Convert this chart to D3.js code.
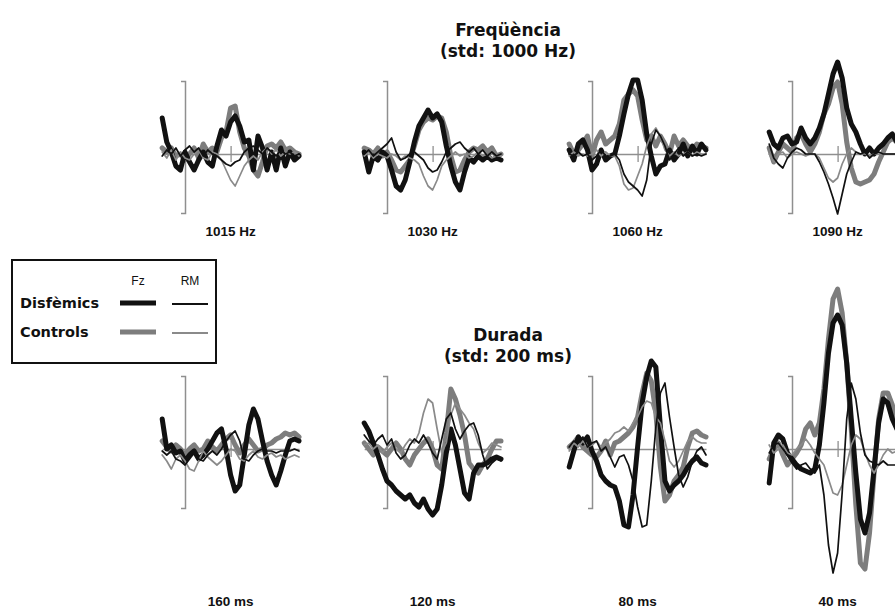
<!DOCTYPE html>
<html>
<head>
<meta charset="utf-8">
<script src="https://cdn.jsdelivr.net/npm/d3@7"></script>
<style>
  body { margin: 0; background: #fff; }
  svg { display: block; }
</style>
</head>
<body>
<svg id="chart" width="895" height="608"></svg>
<script>
// Sample times of the averaged ERP epochs (ms)
const timesMs = [-100,-80,-60,-40,-20,0,20,40,60,80,100,120,140,160,180,200,220,240,260,280,300,320,340,360,380,400,420,440,460,480,500];

const freqLabels = ["1015 Hz", "1030 Hz", "1060 Hz", "1090 Hz"];
const durLabels = ["160 ms", "120 ms", "80 ms", "40 ms"];
const groupLabels = ["Disfèmics", "Controls"];
const siteLabels = ["Fz", "RM"];

// Difference waves in µV (negative plotted upward)
// --- Frequency deviants ---
const fzDisf1015 = [-1.8,-0.6,-0.1,0.6,0.8,-0.1,0.4,0.8,0.3,-0.1,0.4,0.6,-0.4,-1.2,-0.9,-1.6,-1.9,-1.4,-0.6,-0.7,0.8,-0.9,-0.3,0.8,-0.1,0.8,-0.3,0.6,-0.1,0.3,0.1];
const fzCtrl1015 = [-0.3,-0.1,-0.3,0.1,0,0.3,0,-0.3,0.2,-0.5,-0.1,-0.3,-0.1,-0.8,-1.1,-2.3,-2.4,-1.1,-0.3,0.1,0.8,1.1,0.4,-0.4,-0.5,-0.3,-0.6,-0.2,-0.3,-0.1,0];
const rmDisf1015 = [0.1,-0.2,0,-0.3,0.1,-0.2,-0.4,-0.1,-0.3,0.1,-0.2,0,0.1,0.3,0.5,0.6,0.4,0.3,-0.1,-0.3,-0.4,-0.2,0,-0.3,-0.1,0.1,-0.2,0,-0.1,0.1,0];
const rmCtrl1015 = [-0.1,0.2,-0.2,0.3,-0.1,0.2,0.3,0,-0.2,0.2,0.3,-0.1,0,0.3,0.8,1.3,1.6,1.1,0.6,0.3,0.1,0.3,-0.1,-0.3,0,-0.2,0.1,-0.1,0,-0.1,0.1];

const fzDisf1030 = [-0.1,0.9,0.1,0.3,-0.1,0.1,0.8,1.6,1.8,1.3,0.4,-0.6,-1.4,-1.8,-2.2,-1.8,-2.0,-1.6,-0.4,0.6,1.4,1.8,0.9,0.2,0.4,0.1,0.3,0.1,0.3,0.2,0.3];
const fzCtrl1030 = [-0.3,-0.2,0,-0.3,0.1,-0.1,0.3,0.8,0.9,0.6,0.3,-0.4,-1.2,-1.6,-1.8,-1.7,-1.9,-1.8,-1.1,0.1,0.9,0.8,0.3,-0.1,-0.3,-0.2,-0.4,-0.1,-0.3,0.1,0];
const rmDisf1030 = [0,-0.2,0.1,-0.1,-0.3,-0.5,-0.8,-0.1,0.3,0.2,0,-0.1,0.1,0.3,0.7,0.9,0.8,0.4,-0.1,-0.3,-0.5,-0.6,-0.3,-0.1,-0.3,0,-0.2,0.1,-0.1,0.1,0];
const rmCtrl1030 = [0.1,-0.1,0.2,0,0.1,0.2,0,0.1,0.3,0.1,0.2,0.3,0.5,1.1,1.6,1.8,1.3,0.6,0.3,0.1,-0.1,0.1,0,0.2,0.1,-0.1,0.1,0,0.2,0.1,0.1];

const fzDisf1060 = [-0.2,0.3,-0.5,-0.7,-0.2,0.8,0.5,-0.2,0.3,0.1,0,-0.9,-2.0,-3.0,-3.7,-3.7,-2.7,-1.0,0.1,1.0,0.6,0.5,-0.2,0.3,0,-0.5,0.1,-0.4,0,-0.5,-0.2];
const fzCtrl1060 = [-0.5,0,-0.2,-0.5,-0.9,0.1,-0.7,-1.1,-0.5,-0.7,-0.9,-1.5,-2.7,-3.0,-3.2,-2.9,-1.7,-0.7,-0.9,-0.4,-0.9,-0.5,0,-0.9,-0.4,-0.7,-0.4,-0.2,-0.5,-0.4,-0.3];
const rmDisf1060 = [0,0.1,-0.1,0.1,0,0.3,0.1,-0.2,0.1,0.1,0,0.3,1.0,1.4,1.6,1.8,2.1,1.3,-0.5,-1.2,-0.9,-0.4,0.3,0,-0.3,0.1,-0.1,0.1,0,0.1,0];
const rmCtrl1060 = [0.1,-0.1,0.1,0,0.1,0,-0.2,0.1,-0.1,0.1,0.1,0.6,1.5,1.8,1.7,1.1,0.5,-0.4,-1.0,-1.3,-0.9,-0.2,0.1,-0.1,0.1,0,-0.1,0.1,-0.1,0,0];

const fzDisf1090 = [-1.1,-0.5,-0.3,-0.8,-0.9,-0.5,-0.6,-1.3,-0.8,-0.5,-0.8,-1.3,-2.0,-3.0,-4.0,-4.6,-3.8,-2.3,-1.5,-1.1,-0.5,0,-0.3,0,-0.3,-0.5,-0.8,-1.0,-0.6,-0.8,-0.6];
const fzCtrl1090 = [-0.3,0.4,-0.1,-0.5,-0.3,-0.1,-0.8,-1.0,-0.5,-0.1,-0.5,-1.1,-2.0,-2.5,-3.3,-3.6,-2.5,-0.6,0.7,1.4,1.5,1.4,1.3,1.0,0.4,-0.1,-0.6,-0.8,-0.6,-0.7,-0.6];
const rmDisf1090 = [-0.5,0.2,0.5,0.7,0.2,-0.1,-0.3,-0.2,0,0,0,0.4,0.9,1.5,2.2,3.0,2.0,1.0,0.4,-0.1,0,-0.1,0.2,0,-0.1,0,0,0,0,0,0];
const rmCtrl1090 = [0,0.4,0,-0.1,0.2,0,-0.1,0,0.1,0,0,0.2,0.7,1.2,1.4,1.2,0.5,0,-0.3,-0.1,0,0,0.1,0,0,0,0,0,0,0,0];

// --- Duration deviants ---
const fzDisf160 = [-1.5,0,-0.2,0.2,0.1,0.6,0.3,0.1,0.5,0.3,0,-0.4,-0.8,-1.0,0,1.3,2.1,1.8,0.3,-1.2,-2.0,-1.5,-0.4,0.6,1.3,1.8,1.1,0.3,-0.4,-0.5,-0.4];
const fzCtrl160 = [-0.4,-0.1,0.1,-0.2,0,0.3,0,-0.2,0.1,0,-0.4,-0.1,0.1,-0.2,-0.5,-0.7,-0.2,0.2,-0.2,-0.5,-0.2,0.1,0,-0.2,-0.3,-0.5,-0.6,-0.8,-0.7,-0.8,-0.6];
const rmDisf160 = [0.1,0.3,0.1,0.5,0.6,0.8,0.5,0.2,0.5,0.6,0.3,0.1,0.3,0,-0.4,-0.7,-0.9,-0.4,0.5,0.6,0.3,0.1,0,0.1,0.1,0.2,0.1,0.1,0.1,0,0.1];
const rmCtrl160 = [0.3,0.6,1.0,0.5,0.3,0.6,1.0,1.1,0.6,0.1,0.4,0.6,0.8,0.6,0.3,0,0.1,0.5,0.6,0.3,0.1,0.4,0.5,0.3,0.2,0.4,0.3,0.5,0.4,0.3,0.4];

const fzDisf120 = [-1.3,-0.9,-0.3,0.3,1.0,1.6,1.8,2.1,2.3,2.5,2.3,2.7,2.9,2.5,3.0,3.3,3.0,1.8,0.2,-1.0,-0.2,1.0,2.2,2.5,1.2,0.8,0.8,0.7,0.5,0.4,0.5];
const fzCtrl120 = [-0.3,0,0.3,-0.1,0.1,0.3,0,-0.3,0,0.5,0.8,0.3,0,-0.3,-0.5,0,0.8,1.0,-0.8,-3.0,-2.5,-1.7,-0.7,0.7,1.0,1.2,0.8,0.5,0,-0.4,-0.4];
const rmDisf120 = [-0.7,-0.4,-0.2,-0.5,-0.7,-0.2,-0.5,0.2,0.5,0.3,-0.2,-0.5,-0.3,-0.7,-0.3,0.2,0.5,-0.5,-1.5,-1.8,-1.0,-0.5,-0.9,-1.2,-1.3,-0.7,0.3,1.0,0.7,0.5,0.6];
const rmCtrl120 = [-0.2,-0.3,0,-0.2,0.2,-0.1,-0.3,0,0.2,-0.2,-0.5,-0.3,-0.8,-1.8,-2.5,-2.3,-1.0,0.2,-0.3,-1.7,-2.3,-2.0,-1.7,-1.3,-1.0,-0.3,0.2,0,-0.3,-0.2,-0.1];

const fzDisf80 = [0.9,0.1,-0.6,-0.3,-0.6,0.1,0.6,1.3,1.6,1.8,1.9,2.6,3.8,3.9,2.3,-0.1,-2.3,-3.6,-4.4,-4.1,-1.1,1.6,2.1,1.8,1.6,1.3,0.9,0.6,0.4,0.7,0.8];
const fzCtrl80 = [-0.1,-0.3,-0.6,-0.1,0.1,0.3,0.4,0.1,-0.4,0.3,-0.3,-0.4,-0.6,-0.8,-1.1,-1.6,-2.8,-3.8,-3.4,-1.8,0.9,2.6,2.3,1.6,1.3,0.9,-0.1,-0.8,-0.9,-0.7,-0.6];
const rmDisf80 = [-0.1,-0.4,-0.3,-0.6,-0.1,-0.3,-0.4,0.1,-0.1,0.4,0.9,0.4,0.3,0.8,1.6,2.9,3.9,3.8,1.6,-1.1,-2.8,-3.3,-1.6,-0.1,1.3,1.9,1.4,0.6,0.1,-0.1,0.3];
const rmCtrl80 = [0.1,-0.3,-0.1,-0.4,-0.1,-0.2,-0.4,-0.1,-0.3,-0.5,-0.8,-0.9,-1.1,-0.9,-1.3,-1.6,-2.1,-2.4,-2.3,-1.6,-1.3,-0.4,0.6,0.9,0.6,0.1,-0.4,-0.6,-0.4,-0.3,-0.3];

const fzDisf40 = [1.7,-0.3,-0.7,-0.5,0.2,0.5,0.8,1.0,1.1,1.2,1.0,-0.2,-2.3,-4.8,-6.3,-6.7,-6.2,-4.3,-1.5,1.2,3.5,4.2,3.2,1.0,-1.3,-2.5,-2.3,-1.5,-1.0,-0.7,-0.5];
const fzCtrl40 = [0.5,0,-0.3,0.3,0.8,0.5,0.2,-0.2,-1.0,-1.3,-0.7,-1.3,-3.0,-5.5,-7.5,-8.0,-6.8,-4.3,-1.0,2.8,5.7,6.0,4.2,1.2,-1.5,-2.8,-2.8,-2.2,-1.5,-1.0,-0.7];
const rmDisf40 = [0.2,-0.2,-0.3,0,0.3,0.7,1.0,0.8,0.7,1.0,1.2,0.8,2.3,4.8,6.2,5.2,2.2,-1.5,-3.3,-2.5,-0.8,0.3,0.6,0.7,0.8,0.6,0.8,0.8,0.8,0.7,0.8];
const rmCtrl40 = [-0.2,0.2,0,-0.2,0.2,0.3,0,-0.2,-0.5,-0.2,0.2,0.5,0.8,1.5,2.2,2.3,1.8,0.8,-0.2,-0.7,-0.5,0.2,0.8,1.2,0.8,0.3,0,0.2,0.1,0,0];

// ---------------------------------------------------------------
const svg = d3.select("#chart");
const titleFont = "'DejaVu Sans', Verdana, sans-serif";
const labelFont = "'Liberation Sans', Arial, sans-serif";

const BLACK = "#111";
const GRAY = "#7d7d7d";
const AXIS = "#8f8f8f";

// drawing order: thick gray, thick black, thin gray, thin black
const traceStyles = [
  { key: "fzCtrl", color: GRAY,  width: 5 },
  { key: "fzDisf", color: BLACK, width: 5 },
  { key: "rmCtrl", color: "#8a8a8a", width: 1.7 },
  { key: "rmDisf", color: BLACK, width: 1.7 }
];

const panelAxisX = [185, 387, 592, 792];

const rows = [
  {
    title: "Freqüència", sub: "(std: 1000 Hz)", titleY: 36, subY: 57,
    zero: 154, labelY: 236, labels: freqLabels,
    data: [
      { fzDisf: fzDisf1015, fzCtrl: fzCtrl1015, rmDisf: rmDisf1015, rmCtrl: rmCtrl1015 },
      { fzDisf: fzDisf1030, fzCtrl: fzCtrl1030, rmDisf: rmDisf1030, rmCtrl: rmCtrl1030 },
      { fzDisf: fzDisf1060, fzCtrl: fzCtrl1060, rmDisf: rmDisf1060, rmCtrl: rmCtrl1060 },
      { fzDisf: fzDisf1090, fzCtrl: fzCtrl1090, rmDisf: rmDisf1090, rmCtrl: rmCtrl1090 }
    ]
  },
  {
    title: "Durada", sub: "(std: 200 ms)", titleY: 341, subY: 362,
    zero: 449, labelY: 606, labels: durLabels,
    data: [
      { fzDisf: fzDisf160, fzCtrl: fzCtrl160, rmDisf: rmDisf160, rmCtrl: rmCtrl160 },
      { fzDisf: fzDisf120, fzCtrl: fzCtrl120, rmDisf: rmDisf120, rmCtrl: rmCtrl120 },
      { fzDisf: fzDisf80,  fzCtrl: fzCtrl80,  rmDisf: rmDisf80,  rmCtrl: rmCtrl80 },
      { fzDisf: fzDisf40,  fzCtrl: fzCtrl40,  rmDisf: rmDisf40,  rmCtrl: rmCtrl40 }
    ]
  }
];

const PX_PER_MS = 0.228;
const PX_PER_UV = 20;
const AMP_TOP = -3.65, AMP_BOTTOM = 2.95;   // extent of the amplitude bar

rows.forEach(row => {
  // row headings
  [[row.title, row.titleY], [row.sub, row.subY]].forEach(([txt, ty]) => {
    svg.append("text")
      .attr("x", 508).attr("y", ty)
      .attr("text-anchor", "middle")
      .style("font-family", titleFont).style("font-weight", "bold").style("font-size", "17px")
      .attr("fill", "#111")
      .text(txt);
  });

  row.data.forEach((series, i) => {
    const ax = panelAxisX[i];
    const x = d3.scaleLinear().domain([-100, 500])
      .range([ax - 100 * PX_PER_MS, ax + 500 * PX_PER_MS]);
    const y = d3.scaleLinear().domain([AMP_TOP, AMP_BOTTOM])
      .range([row.zero + AMP_TOP * PX_PER_UV, row.zero + AMP_BOTTOM * PX_PER_UV]);

    const g = svg.append("g");

    // time axis at 0 µV with a tick at 200 ms
    const xAxis = g.append("g")
      .attr("transform", `translate(0,${y(0)})`)
      .call(d3.axisBottom(x).tickValues([200]).tickSizeInner(8).tickSizeOuter(0).tickFormat(""));
    xAxis.select(".domain").attr("stroke", AXIS).attr("stroke-width", 1.3);
    xAxis.selectAll(".tick line").attr("y1", -8).attr("stroke", AXIS).attr("stroke-width", 1.3);

    // amplitude bar at stimulus onset
    const yAxis = g.append("g")
      .attr("transform", `translate(${x(0)},0)`)
      .call(d3.axisLeft(y).tickValues([]).tickSizeOuter(4));
    yAxis.select(".domain").attr("stroke", AXIS).attr("stroke-width", 1.5);

    const line = d3.line()
      .x((d, k) => x(timesMs[k]))
      .y(d => y(d))
      .curve(d3.curveLinear);

    traceStyles.forEach(s => {
      g.append("path")
        .datum(series[s.key])
        .attr("d", line)
        .attr("fill", "none")
        .attr("stroke", s.color)
        .attr("stroke-width", s.width)
        .attr("stroke-linejoin", "round")
        .attr("stroke-linecap", "round");
    });

    // condition label centred under the 200 ms tick
    svg.append("text")
      .attr("x", x(200)).attr("y", row.labelY)
      .attr("text-anchor", "middle")
      .style("font-family", labelFont).style("font-weight", "bold").style("font-size", "13.5px")
      .attr("fill", "#111")
      .text(row.labels[i]);
  });
});

// ---------------- legend ----------------
const legend = svg.append("g");
legend.append("rect")
  .attr("x", 12).attr("y", 260).attr("width", 204).attr("height", 103)
  .attr("fill", "#fff").attr("stroke", "#111").attr("stroke-width", 2);

const siteX = [138, 190];
siteLabels.forEach((s, j) => {
  legend.append("text")
    .attr("x", siteX[j]).attr("y", 285)
    .attr("text-anchor", "middle")
    .style("font-family", labelFont).style("font-size", "12px")
    .attr("fill", "#111")
    .text(s);
});

const groupY = [303, 332];
const groupColor = [BLACK, GRAY];
groupLabels.forEach((gname, j) => {
  legend.append("text")
    .attr("x", 20).attr("y", groupY[j] + 5)
    .style("font-family", titleFont).style("font-weight", "bold").style("font-size", "14.5px")
    .attr("fill", "#111")
    .text(gname);
  legend.append("line")
    .attr("x1", 120).attr("x2", 156).attr("y1", groupY[j]).attr("y2", groupY[j])
    .attr("stroke", groupColor[j]).attr("stroke-width", 5);
  legend.append("line")
    .attr("x1", 172).attr("x2", 208).attr("y1", groupY[j] + 1).attr("y2", groupY[j] + 1)
    .attr("stroke", j === 0 ? BLACK : "#8a8a8a").attr("stroke-width", 1.8);
});
</script>
</body>
</html>
